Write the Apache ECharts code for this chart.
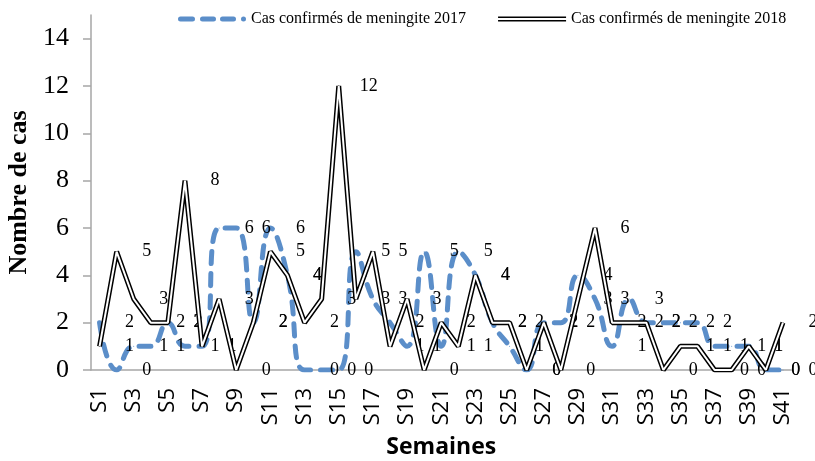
<!DOCTYPE html>
<html>
<head>
<meta charset="utf-8">
<script src="https://cdn.jsdelivr.net/npm/echarts@6/dist/echarts.min.js"></script>
<style>
  html, body { margin: 0; padding: 0; background: #fff; }
  #chart { width: 815px; height: 461px; }
</style>
</head>
<body>
<div id="chart"></div>
<script>
// semaines
var weeks = [];
for (var i = 1; i <= 41; i++) weeks.push("S" + i);

// cas confirmés 2017 (pointillés bleus)
var cases2017 = [2, 0, 1, 1, 2, 1, 1, 6, 6, 2, 6, 4, 0, 0, 0, 5, 3, 2, 1, 5, 1,
                 5, 4, 2, 1, 0, 2, 2, 4, 3, 1, 3, 2, 2, 2, 2, 1, 1, 1, 0, 0];
// cas confirmés 2018 (double trait noir)
var cases2018 = [1, 5, 3, 2, 2, 8, 1, 3, 0, 2, 5, 4, 2, 3, 12, 3, 5, 1, 3, 0, 2,
                 1, 4, 2, 2, 0, 2, 0, 3, 6, 2, 2, 2, 0, 1, 1, 0, 0, 1, 0, 2];
var yTicks = [0, 2, 4, 6, 8, 10, 12, 14];

var name2017 = "Cas confirmés de meningite 2017";
var name2018 = "Cas confirmés de meningite 2018";

var serif = "Liberation Serif";
var gray = "#a6a6a6";

// étiquettes décalées vers la droite comme dans l'original
var dataLabel = {
  show: true,
  position: "inside",
  offset: [30, 0],
  color: "#000",
  fontFamily: serif,
  fontSize: 18,
};

var chart = echarts.init(document.getElementById("chart"));
chart.setOption({
  animation: false,
  backgroundColor: "#fff",
  legend: {
    left: 173,
    top: 6,
    itemWidth: 68,
    itemHeight: 5,
    itemGap: 32,
    textStyle: { fontFamily: serif, fontSize: 16, color: "#000" },
    data: [
      {
        name: name2017,
        icon: "path://M2.5,0H14.5A2.5,2.5,0,0,1,14.5,5H2.5A2.5,2.5,0,0,1,2.5,0Z" +
          "M24.5,0H35.5A2.5,2.5,0,0,1,35.5,5H24.5A2.5,2.5,0,0,1,24.5,0Z" +
          "M44.5,0H55.5A2.5,2.5,0,0,1,55.5,5H44.5A2.5,2.5,0,0,1,44.5,0Z" +
          "M65.5,0A2.5,2.5,0,0,1,65.5,5A2.5,2.5,0,0,1,65.5,0Z",
      },
      {
        name: name2018,
        icon: "path://M0,0H68V1.5H0Z M0,3.5H68V5H0Z",
      },
    ],
  },
  grid: { left: 91, right: 23.5, top: 15, bottom: 91, outerBoundsMode: "none" },
  xAxis: {
    type: "category",
    data: weeks,
    boundaryGap: true,
    name: "Semaines",
    nameLocation: "middle",
    nameGap: 66,
    nameTextStyle: { fontFamily: "Open Sans", fontWeight: "bold", fontSize: 23, color: "#000" },
    axisLine: { lineStyle: { color: gray, width: 1.5 } },
    axisTick: { alignWithLabel: false, interval: 0, length: 8, lineStyle: { color: gray, width: 1.5 } },
    axisLabel: {
      interval: 1,
      rotate: 90,
      margin: 18,
      fontFamily: "Open Sans",
      fontSize: 22,
      color: "#000",
    },
  },
  yAxis: {
    type: "value",
    min: 0,
    max: 15,
    interval: 2,
    name: "Nombre de cas",
    nameLocation: "middle",
    nameGap: 59,
    nameTextStyle: { fontFamily: serif, fontWeight: "bold", fontSize: 26, color: "#000" },
    splitLine: { show: false },
    axisLine: { show: true, lineStyle: { color: gray, width: 1.5 } },
    axisTick: { show: true, length: 8, customValues: yTicks, lineStyle: { color: gray, width: 1.5 } },
    axisLabel: {
      margin: 22,
      customValues: yTicks,
      fontFamily: serif,
      fontSize: 26,
      color: "#000",
    },
  },
  series: [
    {
      name: name2017,
      type: "line",
      data: cases2017,
      smooth: 0.5,
      symbol: "circle",
      symbolSize: 1,
      showAllSymbol: true,
      color: "#5b8ec9",
      lineStyle: { color: "#5b8ec9", width: 5, type: [12, 10], cap: "round" },
      label: dataLabel,
      emphasis: { disabled: true },
      z: 2,
    },
    {
      name: name2018,
      type: "line",
      data: cases2018,
      symbol: "circle",
      symbolSize: 1,
      showAllSymbol: true,
      color: "#000",
      lineStyle: { color: "#000", width: 5 },
      label: dataLabel,
      emphasis: { disabled: true },
      z: 3,
    },
    {
      // trait blanc intérieur pour le double trait
      name: "inner2018",
      type: "line",
      data: cases2018,
      symbol: "none",
      silent: true,
      lineStyle: { color: "#fff", width: 2 },
      emphasis: { disabled: true },
      z: 4,
    },
  ],
});
</script>
</body>
</html>
